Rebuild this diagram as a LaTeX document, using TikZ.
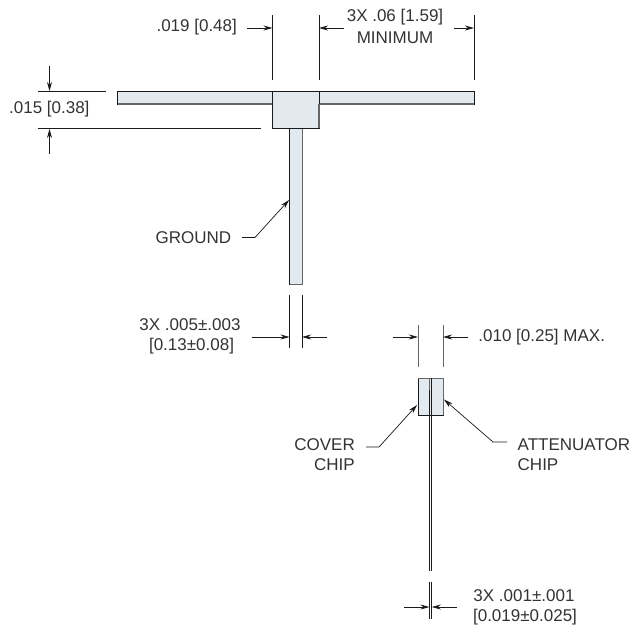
\documentclass[tikz,border=0pt]{standalone}
\usepackage{fontspec}
\setmainfont{Liberation Sans}
\usetikzlibrary{arrows.meta}
\definecolor{partfill}{HTML}{E2EAF0}
\definecolor{inktext}{HTML}{333333}
\definecolor{inkline}{HTML}{1A1A1A}
\definecolor{softline}{HTML}{666666}
\tikzset{
  body/.style={draw=inkline,fill=partfill,line width=1pt},
  softedge/.style={draw=softline,line width=1.6pt},
  edgeline/.style={draw=inkline,line width=1pt},
  extline/.style={draw=inkline,line width=0.8pt},
  softext/.style={draw=softline,line width=1pt},
  dimarrow/.style={draw=inkline,line width=0.7pt,-{Stealth[length=9pt,width=5pt]}},
  lab/.style={inner sep=0pt,text=inktext,font=\fontsize{17pt}{20pt}\selectfont},
}
\begin{document}
\begin{tikzpicture}[x=1pt,y=-1pt]
\useasboundingbox (0,0) rectangle (634,625);
% T-shaped part
\path[body] (117.5,91) rectangle (474,104);
\draw[softedge] (118,104) -- (474,104);
\path[body] (289.5,128) rectangle (302.5,284);
\draw[softedge] (302.5,128) -- (302.5,284.5) -- (289.5,284.5);
\path[body] (272.5,91) rectangle (319,128.5);
\draw[softedge] (319,104) -- (319,128);
% side view
\path[body] (418,378) rectangle (443,415.5);
\draw[softext] (418,378) -- (443,378) -- (443,415);
\draw[softext] (429.7,378) -- (429.7,390);
\draw[edgeline] (429.7,390) -- (429.7,570.5);
\draw[edgeline] (431.9,378) -- (431.9,570.5);
% extension lines
\draw[extline] (272.5,15) -- (272.5,80);
\draw[extline] (319,15) -- (319,80);
\draw[extline] (474,15) -- (474,80);
\draw[extline] (38,91) -- (106,91);
\draw[extline] (38,128.5) -- (261,128.5);
\draw[extline] (289.5,295) -- (289.5,348);
\draw[extline] (302,295) -- (302,348);
\draw[softext] (418,325) -- (418,367);
\draw[softext] (443,325) -- (443,367);
\draw[extline] (429.4,582) -- (429.4,619);
\draw[extline] (431.8,582) -- (431.8,619);
% labels
\node[lab] (a) at (196.7,27) {.019 [0.48]};
\node[lab] (b1) at (395,17.5) {3X .06 [1.59]};
\node[lab] (b2) at (395,38) {MINIMUM};
\node[lab] (c) at (49.3,109.5) {.015 [0.38]};
\node[lab] (g) at (193.5,238) {GROUND};
\node[lab] (d1) at (190,325) {3X .005±.003};
\node[lab] (d2) at (191.5,346) {[0.13±0.08]};
\node[lab] (e) at (541.7,337) {.010 [0.25] MAX.};
\node[lab,anchor=east] (f1) at (355,445) {COVER};
\node[lab,anchor=east] (f2) at (355,465) {CHIP};
\node[lab,anchor=west] (h1) at (517.5,445) {ATTENUATOR};
\node[lab,anchor=west] (h2) at (517.5,465) {CHIP};
\node[lab] (i1) at (524,596) {3X .001±.001};
\node[lab] (i2) at (525,617) {[0.019±0.025]};
% dimension arrows
\draw[dimarrow] (247,28) -- (272.5,28);
\draw[dimarrow] (344,28) -- (319,28);
\draw[dimarrow] (454,28) -- (474,28);
\draw[dimarrow] (49.5,66) -- (49.5,91);
\draw[dimarrow] (49.5,154) -- (49.5,129);
\draw[dimarrow] (252,337) -- (289.5,337);
\draw[dimarrow] (327,337) -- (302,337);
\draw[dimarrow] (393,337) -- (418,337);
\draw[dimarrow] (468,337) -- (443,337);
\draw[dimarrow] (404,607) -- (429.4,607);
\draw[dimarrow] (457,607) -- (431.8,607);
% leaders
\draw[dimarrow] (242,237.5) -- (255,237.5) -- (289,200);
\draw[dimarrow] (366,447) -- (379,447) -- (417,405);
\draw[dimarrow] (507,442) -- (493,442) -- (444,399.5);
\end{tikzpicture}
\end{document}
